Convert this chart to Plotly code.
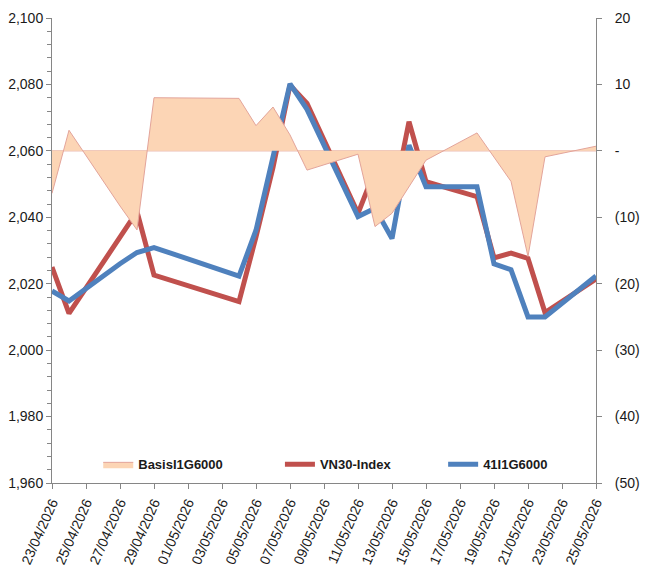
import plotly.graph_objects as go

dates = ["2026-04-23", "2026-04-24", "2026-04-27", "2026-04-28", "2026-04-29",
         "2026-05-04", "2026-05-05", "2026-05-06", "2026-05-07", "2026-05-08",
         "2026-05-11", "2026-05-12", "2026-05-13", "2026-05-14", "2026-05-15",
         "2026-05-18", "2026-05-19", "2026-05-20", "2026-05-21", "2026-05-22",
         "2026-05-25"]

vn30 = [2025.0, 2011.1, 2034.0, 2041.7, 2022.6,
        2014.6, 2034.1, 2055.0, 2079.8, 2074.3,
        2041.2, 2054.2, 2043.2, 2068.8, 2050.7,
        2046.2, 2027.8, 2029.2, 2027.6, 2011.3,
        2021.4]

fut = [2017.8, 2014.8, 2026.0, 2029.4, 2030.9,
       2022.3, 2036.1, 2059.0, 2080.2, 2072.5,
       2040.2, 2042.7, 2033.6, 2061.7, 2049.2,
       2049.2, 2026.0, 2024.2, 2010.0, 2010.0,
       2022.3]

basis = [-6.4, 3.1, -8.3, -11.9, 8.0,
         7.9, 3.8, 6.6, 2.4, -2.9,
         -0.5, -11.4, -9.4, -5.4, -1.4,
         2.7, -1.0, -4.6, -15.9, -0.9,
         0.7]

left_ticks = [1960, 1980, 2000, 2020, 2040, 2060, 2080, 2100]
right_vals = [-50, -40, -30, -20, -10, 0, 10, 20]
right_text = ["(50)", "(40)", "(30)", "(20)", "(10)", "-", "10", "20"]

FONT = "Liberation Sans, Arial, sans-serif"
AXIS_COL = "#868686"
TXT = "#1a1a1a"

fig = go.Figure()

fig.add_trace(go.Scatter(
    x=dates, y=basis, name="BasisI1G6000", yaxis="y2",
    mode="lines", fill="tozeroy", fillcolor="#FCD5B5",
    line=dict(color="#E3A49A", width=1), legend="legend",
))
fig.add_trace(go.Scatter(
    x=dates, y=vn30, name="VN30-Index", mode="lines",
    line=dict(color="#C0504D", width=5), legend="legend2",
))
fig.add_trace(go.Scatter(
    x=dates, y=fut, name="41I1G6000", mode="lines",
    line=dict(color="#4F81BD", width=5), legend="legend3",
))

fig.add_shape(type="line", xref="x", yref="y2",
              x0=dates[0], x1=dates[-1], y0=0, y1=0,
              line=dict(color="#E3A49A", width=1), layer="below")

legend_common = dict(
    orientation="h", y=0.04, xanchor="left", yanchor="middle",
    font=dict(family=FONT, size=13, color=TXT, weight="bold"),
    bgcolor="rgba(0,0,0,0)",
)

fig.update_layout(
    width=648, height=567,
    margin=dict(l=52, r=52, t=18, b=84, autoexpand=False),
    paper_bgcolor="white", plot_bgcolor="white",
    font=dict(family=FONT, size=14, color=TXT),
    showlegend=True,
    legend=dict(x=0.085, **legend_common),
    legend2=dict(x=0.419, **legend_common),
    legend3=dict(x=0.719, **legend_common),
    xaxis=dict(
        type="date", range=[dates[0], dates[-1]],
        tick0=dates[0], dtick=2 * 86400000, tickformat="%d/%m/%Y",
        tickangle=-66, showgrid=False, zeroline=False,
        showline=True, linecolor=AXIS_COL, linewidth=1,
        ticks="outside", ticklen=5, tickcolor=AXIS_COL,
        tickfont=dict(size=14), automargin=False,
    ),
    yaxis=dict(
        range=[1960, 2100], tickvals=left_ticks, tickformat=",",
        showgrid=False, zeroline=False,
        showline=True, linecolor=AXIS_COL, linewidth=1,
        ticks="outside", ticklen=5, tickcolor=AXIS_COL,
        minor=dict(dtick=4, tick0=1960, ticks="outside", ticklen=4,
                   tickcolor=AXIS_COL, showgrid=False),
        tickfont=dict(size=14), automargin=False,
    ),
    yaxis2=dict(
        range=[-50, 20], overlaying="y", side="right",
        tickvals=right_vals, ticktext=right_text,
        showgrid=False, zeroline=False,
        showline=True, linecolor=AXIS_COL, linewidth=1,
        ticks="outside", ticklen=5, tickcolor=AXIS_COL,
        tickfont=dict(size=14), ticklabelstandoff=10, automargin=False,
    ),
)

fig.write_html("out.html")
